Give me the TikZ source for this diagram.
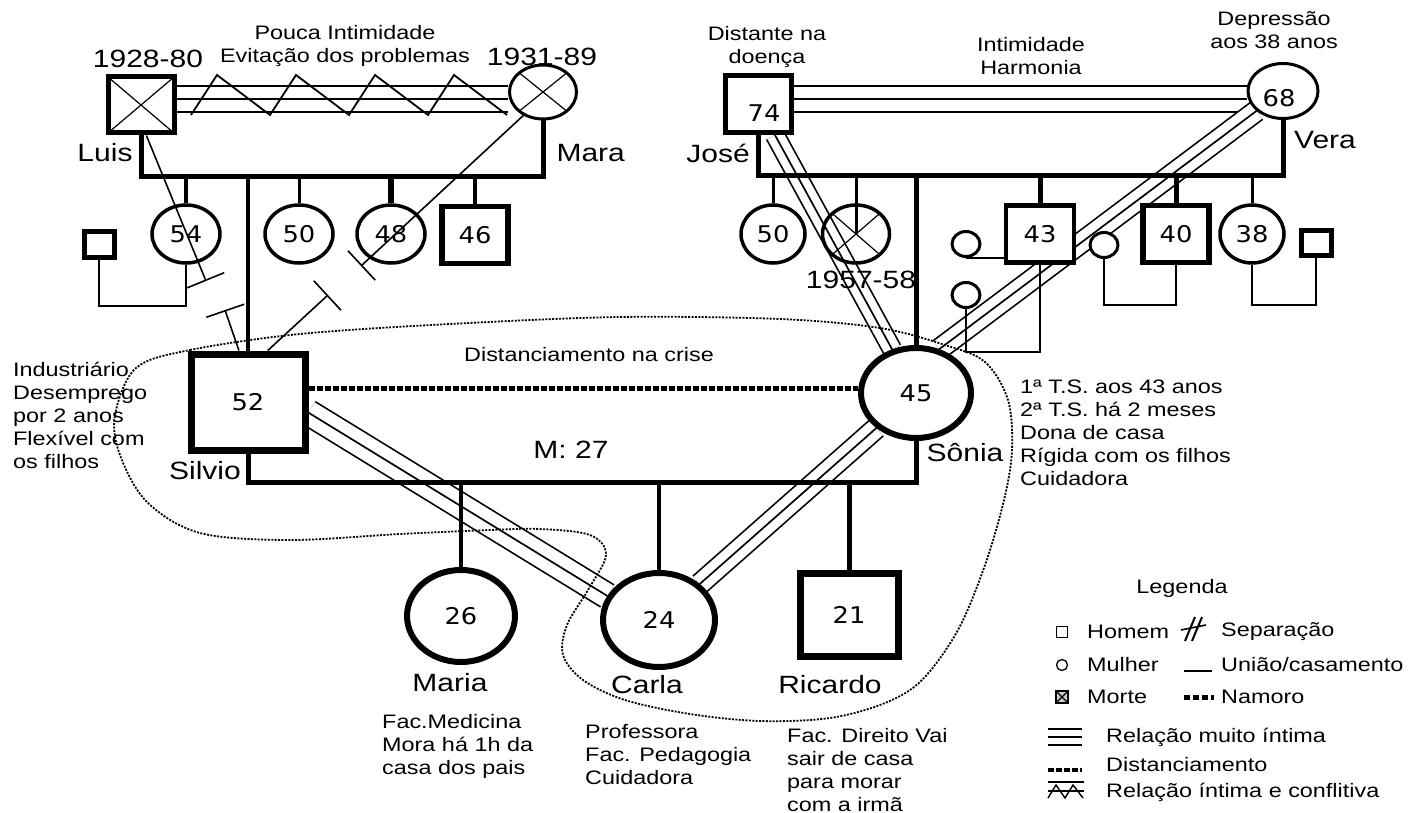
\documentclass[tikz,border=0pt]{standalone}
\usepackage{fontspec}
\setmainfont{Liberation Sans}[FakeStretch=1.2]
\newfontfamily\agefont{DejaVu Sans}[FakeStretch=1.12]
\usetikzlibrary{arrows.meta,shapes.geometric}
\pgfdeclarelayer{relations}
\pgfdeclarelayer{unions}
\pgfsetlayers{relations,unions,main}
\tikzset{
  geno man/.style={draw, fill=white, rectangle, line width=5pt, inner sep=0pt},
  geno woman/.style={draw, fill=white, ellipse, line width=3.5pt, inner sep=0pt},
  geno dead/.style={path picture={
      \draw[line width=1.2pt] (path picture bounding box.north west) -- (path picture bounding box.south east)
                              (path picture bounding box.south west) -- (path picture bounding box.north east);}},
  geno age/.style={font=\agefont\fontsize{23}{26}\selectfont},
  geno name/.style={font=\fontsize{25}{28}\selectfont},
  geno note/.style={font=\fontsize{19.5}{23}\selectfont, align=left, inner sep=0pt},
  geno marriage/.style={line width=5pt},
  geno child/.style={line width=4pt},
  geno thin/.style={line width=1.8pt},
  geno triple/.style={line width=1.7pt, preaction={draw, line width=1.7pt, double, double distance=#1}},
  geno triple/.default=24pt,
  geno cut end/.style={line width=1.6pt, -{Bar[width=40pt]}},
  geno cut start/.style={line width=1.6pt, {Bar[width=40pt]}-},
  geno distance/.style={line width=5pt, dash pattern=on 6pt off 2pt},
  geno household/.style={line width=1.8pt, dash pattern=on 2pt off 1.4pt},
}

\begin{document}
\begin{tikzpicture}[x=1pt, y=-1pt]
  \useasboundingbox (0,0) rectangle (1421,813);

  % Levels of the union lines
  \coordinate (lm) at (0,177);
  \coordinate (jv) at (0,176);
  \coordinate (ss) at (0,482);

  % First generation, father's side
  \node[geno man, geno dead, minimum width=66pt, minimum height=56pt] (luis) at (141,105) {};
  \node[geno woman, geno dead, line width=3pt, minimum width=67pt, minimum height=54pt] (mara) at (543,92) {};
  % First generation, mother's side
  \node[geno man, minimum width=66pt, minimum height=57pt] (jose) at (758,104) {};
  \node[geno woman, line width=3pt, minimum width=70pt, minimum height=55pt] (vera) at (1283,91) {};

  % Second generation
  \node[geno man, line width=7pt, minimum width=114pt, minimum height=96pt, geno age] (silvio) at (248,402) {52};
  \node[geno woman, line width=6pt, minimum width=110pt, minimum height=90pt, geno age] (sonia) at (916,393) {45};

  % Siblings of Silvio
  \node[geno woman, minimum width=68pt, minimum height=58pt, geno age] (k54) at (186,234) {54};
  \node[geno woman, minimum width=68pt, minimum height=58pt, geno age] (k50) at (299,234) {50};
  \node[geno woman, minimum width=68pt, minimum height=58pt, geno age] (k48) at (391,234) {48};
  \node[geno man, line width=5.5pt, minimum width=66pt, minimum height=57pt, geno age] (k46) at (475,235) {46};
  \node[geno man, minimum width=30pt, minimum height=26pt] (sp54) at (99,244) {};

  % Siblings of Sonia
  \node[geno woman, minimum width=64pt, minimum height=58pt, geno age] (j50) at (773,234) {50};
  \node[geno woman, geno dead, fill=none, minimum width=67pt, minimum height=58pt] (dec) at (856,234) {};
  \node[geno woman, line width=3pt, minimum width=28pt, minimum height=25pt] (w43a) at (966,244) {};
  \node[geno woman, line width=3pt, minimum width=28pt, minimum height=25pt] (w43b) at (966,295) {};
  \node[geno man, line width=4.5pt, minimum width=68pt, minimum height=57pt, geno age] (k43) at (1040,234) {43};
  \node[geno woman, line width=3pt, minimum width=28pt, minimum height=25pt] (w40) at (1104,245) {};
  \node[geno man, line width=5.5pt, minimum width=66pt, minimum height=57pt, geno age] (k40) at (1176,234) {40};
  \node[geno woman, minimum width=64pt, minimum height=58pt, geno age] (k38) at (1252,234) {38};
  \node[geno man, minimum width=30pt, minimum height=25pt] (h38) at (1316,243) {};

  % Children of Silvio and Sonia
  \node[geno woman, line width=6pt, minimum width=108pt, minimum height=92pt, geno age] (maria) at (461,616) {26};
  \node[geno woman, line width=6pt, minimum width=112pt, minimum height=94pt, geno age] (carla) at (659,620) {24};
  \node[geno man, line width=7pt, minimum width=98pt, minimum height=83pt, geno age] (ricardo) at (849,615) {21};

  % Relations (below everything)
  \begin{pgfonlayer}{relations}
    \draw[geno triple] (luis.east |- 0,99) -- (mara.west |- 0,99);
    \draw[geno triple] (jose.east |- 0,99) -- (vera.west |- 0,99);
    \draw[geno triple=17pt] (jose) -- (sonia);
    \draw[geno triple=19pt] (vera) -- (sonia.62);
    \draw[geno triple=24pt] (silvio.-10) -- (carla.155);
    \draw[geno triple=19pt] (sonia) -- (carla);
    \coordinate (zz) at (191,115);
    \draw[line width=1.8pt] (zz) \foreach \i in {1,...,4} { -- ++(26,-40) -- ++(53,40)};
  \end{pgfonlayer}

  % Unions and children
  \begin{pgfonlayer}{unions}
    \draw[geno marriage] (luis.south) |- (lm -| mara.south) -- (mara.south);
    \draw[geno marriage] (jose.south) |- (jv -| vera.south) -- (vera.south);
    \draw[geno marriage] (silvio.south) |- (ss -| sonia.south) -- (sonia.south);

    \draw[geno child] (k54.north) -- (k54.north |- lm);
    \draw[geno child] (silvio.north) -- (silvio.north |- lm);
    \draw[geno child, line width=3pt] (k50.north) -- (k50.north |- lm);
    \draw[geno child, line width=6pt] (k48.north) -- (k48.north |- lm);
    \draw[geno child] (k46.north) -- (k46.north |- lm);
    \draw[geno thin] (sp54.south) |- (k54.south |- 0,306) -- (k54.south);

    \draw[geno child, line width=3pt] (j50.north) -- (j50.north |- jv);
    \draw[geno child, line width=3pt] (dec.center) -- (dec.center |- jv);
    \draw[geno child, line width=5pt] (sonia.north) -- (sonia.north |- jv);
    \draw[geno child, line width=5pt] (k43.north) -- (k43.north |- jv);
    \draw[geno child, line width=5pt] (k40.north) -- (k40.north |- jv);
    \draw[geno child, line width=3pt] (k38.north) -- (k38.north |- jv);
    \draw[geno thin] (w43a.south) -- (w43a.south -| k43.west);
    \draw[geno thin] (w43b.south) |- (k43.south |- 0,352) -- (k43.south);
    \draw[geno thin] (w40.south) |- (k40.south |- 0,305) -- (k40.south);
    \draw[geno thin] (k38.south) |- (h38.south |- 0,305) -- (h38.south);

    \draw[geno child, line width=3.5pt] (maria.north) -- (maria.north |- ss);
    \draw[geno child] (carla.north) -- (carla.north |- ss);
    \draw[geno child, line width=5pt] (ricardo.north) -- (ricardo.north |- ss);
  \end{pgfonlayer}

  % Cut-off between Silvio and his parents
  \coordinate (lc1) at (206,281);
  \coordinate (lc2) at (225,310);
  \coordinate (mc1) at (361,266);
  \coordinate (mc2) at (328,295);
  \draw[geno cut end] (luis.-80) -- (lc1);
  \draw[geno cut start] (lc2) -- (silvio.100);
  \draw[geno cut end] (mara.230) -- (mc1);
  \draw[geno cut start] (mc2) -- (silvio.69);

  % Distancing in the couple
  \draw[geno distance] (silvio.east |- 0,388) -- (sonia.west |- 0,388);

  % Ages placed off centre
  \node[geno age] (jose age) at (764,113) {74};
  \node[geno age] (vera age) at (1279,98) {68};

  % Names and dates
  \node[geno name] (luis yr) at (148,59) {1928-80};
  \node[geno name] (mara yr) at (542,57) {1931-89};
  \node[geno name] (dec yr) at (861,280) {1957-58};
  \node[geno name] (luis name) at (105,153) {Luis};
  \node[geno name, anchor=west] (mara name) at (553,153) {Mara};
  \node[geno name] (jose name) at (718,153) {José};
  \node[geno name] (vera name) at (1325,140) {Vera};
  \node[geno name] (silvio name) at (205,471) {Silvio};
  \node[geno name] (sonia name) at (965,453) {Sônia};
  \node[geno name] (maria name) at (450,683) {Maria};
  \node[geno name] (carla name) at (647,685) {Carla};
  \node[geno name] (ricardo name) at (830,685) {Ricardo};
  \node[geno name] (wed) at (571,450) {M: 27};

  % Notes
  \node[geno note, align=center] (luis rel) at (345,46) {Pouca Intimidade\\Evitação dos problemas};
  \node[geno note, align=center] (jose note) at (767,47) {Distante na\\doença};
  \node[geno note, align=center] (jose rel) at (1031,56) {Intimidade\\Harmonia};
  \node[geno note, align=center] (vera note) at (1274,30) {Depressão\\aos 38 anos};
  \node[geno note, anchor=west] (crisis) at (464,355) {Distanciamento na crise};
  \node[geno note, anchor=west] (silvio note) at (13,415) {Industriário\\Desemprego\\por 2 anos\\Flexível com\\os filhos};
  \node[geno note, anchor=west] (sonia note) at (1020,433) {1ª T.S. aos 43 anos\\2ª T.S. há 2 meses\\Dona de casa\\Rígida com os filhos\\Cuidadora};
  \node[geno note, anchor=west] (maria note) at (382,746) {Fac.Medicina\\Mora há 1h da\\casa dos pais};
  \node[geno note, anchor=west] (carla note) at (585,755) {Professora\\Fac. Pedagogia\\Cuidadora};
  \node[geno note, anchor=west] (ricardo note) at (787,770) {Fac. Direito Vai\\sair de casa\\para morar\\com a irmã};

  % Household boundary
  \draw[geno household] plot[smooth cycle, tension=0.55] coordinates {
    (136,368) (190,350) (300,334) (450,324) (620,317) (780,319) (880,328) (945,345)
    (985,362) (1008,400) (1012,450) (1004,500) (985,565) (958,630) (922,680) (885,703)
    (830,718) (760,721) (690,714) (625,700) (583,680) (563,655) (567,625) (588,590)
    (606,555) (590,535) (540,529) (490,530) (400,534) (290,540) (200,533) (147,502)
    (120,455) (115,415)};

  % Legend
  \node[geno note] (leg title) at (1182,588) {Legenda};
  \node[draw, line width=1.3pt, minimum size=11pt, inner sep=0pt] (leg man) at (1062,632) {};
  \node[draw, circle, line width=1.3pt, minimum size=11pt, inner sep=0pt] (leg woman) at (1062,665) {};
  \node[draw, fill=black!20, geno dead, line width=1.3pt, minimum size=12pt, inner sep=0pt] (leg dead) at (1062,697) {};
  \node[geno note, anchor=west] (leg man txt) at (1087,632) {Homem};
  \node[geno note, anchor=west] (leg woman txt) at (1087,665) {Mulher};
  \node[geno note, anchor=west] (leg dead txt) at (1087,697) {Morte};
  \draw[line width=2pt] (1185,641) -- (1195,617) (1192,641) -- (1202,617);
  \draw[line width=1.6pt] (1181,630) -- (1206,625);
  \draw[line width=1.4pt] (1184,671) -- (1212,671);
  \draw[line width=5pt, dash pattern=on 6pt off 3pt] (1184,697) -- (1214,697);
  \node[geno note, anchor=west] (leg sep txt) at (1221,632) {Separação};
  \node[geno note, anchor=west] (leg union txt) at (1221,665) {União/casamento};
  \node[geno note, anchor=west] (leg date txt) at (1221,697) {Namoro};
  \draw[line width=1.4pt] (1048,729) -- (1082,729) (1048,737) -- (1082,737) (1048,745) -- (1082,745);
  \draw[line width=4pt, dash pattern=on 6pt off 2pt] (1048,770) -- (1082,770);
  \draw[line width=1.4pt] (1048,782) -- (1084,782) (1048,791) -- (1084,791);
  \draw[line width=1.4pt] (1048,798) -- (1056,785) -- (1065,798) -- (1073,785) -- (1083,798);
  \node[geno note, anchor=west] (leg close txt) at (1106,737) {Relação muito íntima};
  \node[geno note, anchor=west] (leg far txt) at (1106,765) {Distanciamento};
  \node[geno note, anchor=west] (leg conf txt) at (1106,792) {Relação íntima e conflitiva};
\end{tikzpicture}
\end{document}
